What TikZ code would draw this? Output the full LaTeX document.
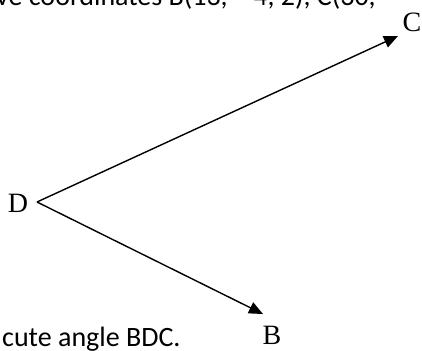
\documentclass[tikz,border=0pt]{standalone}
\usepackage{fontspec}
\setmainfont{Liberation Serif}
\newfontfamily\bodyfont{Carlito}
\usetikzlibrary{arrows.meta}
\begin{document}
\begin{tikzpicture}[x=1pt,y=-1pt,
  vec/.style={line width=1.4pt,-{Triangle[length=14pt,width=12pt]}},
  lbl/.style={font=\fontsize{28}{32}\selectfont,inner sep=0pt},
  body/.style={font=\bodyfont\fontsize{28}{32}\selectfont,inner sep=0pt,anchor=base west}]
\useasboundingbox (0,0) rectangle (422,350);
\fill[white] (0,0) rectangle (422,350);
\coordinate (d) at (37,202);
\coordinate (c) at (398,36);
\coordinate (b) at (263,314);
\draw[vec] (d) -- (c);
\draw[vec] (d) -- (b);
\node[lbl] (dl) at (18,203) {D};
\node[lbl] (cl) at (412,22) {C};
\node[lbl] (bl) at (272,335) {B};
\node[body] (top) at (-4,6) {ve coordinates B(13, $-$4, 2), C(30, };
\node[body] (bot) at (2,346) {cute angle BDC.};
\end{tikzpicture}
\end{document}
